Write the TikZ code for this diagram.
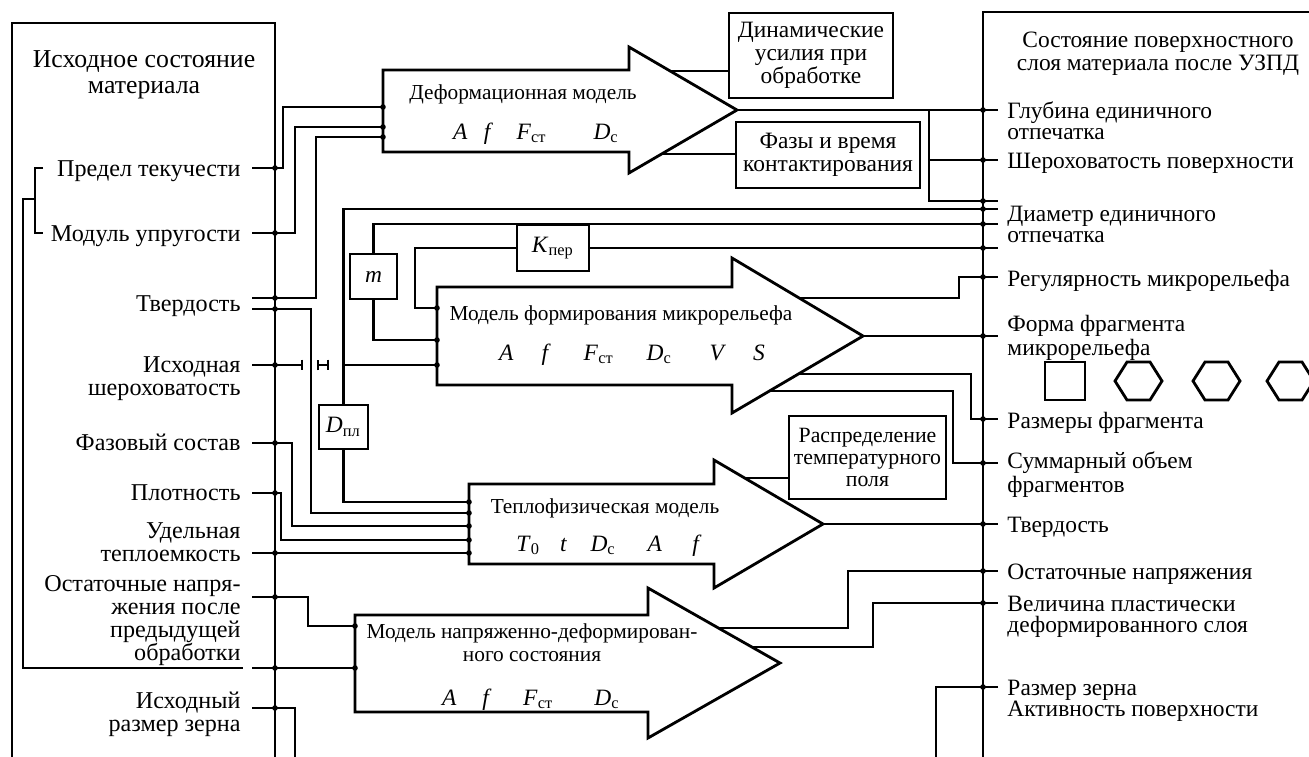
\documentclass[tikz,border=0pt]{standalone}
\usepackage{fontspec}
\setmainfont{Liberation Serif}
\usetikzlibrary{arrows.meta}
\tikzset{
    every node/.style={inner sep=0mm, align=center, font=\fontsize{10}{9.8}\selectfont}
}
\tikzset{
    wire/.style={line width=1pt},
    frame/.style={line width=1.2pt},
    blk/.style={draw, shape=rectangle, line width=1.2pt},
    ttl/.style={anchor=base, font=\fontsize{9.1}{9.6}\selectfont},
    llbl/.style={anchor=base east, align=right, font=\fontsize{10.3}{9.8}\selectfont},
    rlbl/.style={anchor=base west, align=left, font=\fontsize{10}{8.9}\selectfont},
    cutr/.style={line width=1pt, -{Bar[width=4.5pt]}},
    cutl/.style={line width=1pt, {Bar[width=4.5pt]}-},
    cutb/.style={line width=1pt, {Bar[width=4.5pt]}-{Bar[width=4.5pt]}}
}
\newcommand{\jr}{0.42mm}

\begin{document}
\begin{tikzpicture}[x=0.015cm, y=-0.015cm]
    \useasboundingbox (0,0) rectangle (1309,756);

    % source state of the material
    \draw[frame] (12,762) -- (12,23) -- (275,23) -- (275,762);
    \node (lt) at (144,93) [anchor=base, font=\fontsize{11}{10.7}\selectfont] {Исходное состояние\\материала};

    \node (lpt) at (241,176) [llbl] {Предел текучести};
    \node (lmu) at (241,241) [llbl] {Модуль упругости};
    \node (ltv) at (241,311) [llbl] {Твердость};
    \node (lir) at (241,395) [llbl] {Исходная\\шероховатость};
    \node (lfs) at (241,450) [llbl] {Фазовый состав};
    \node (lpl) at (241,500) [llbl] {Плотность};
    \node (lut) at (241,561) [llbl] {Удельная\\теплоемкость};
    \node (lon) at (241,660) [llbl] {Остаточные напря-\\жения после\\предыдущей\\обработки};
    \node (lrz) at (241,731) [llbl] {Исходный\\размер зерна};

    \coordinate (pPt) at (252,168);
    \coordinate (pMu) at (252,233);
    \coordinate (pTa) at (252,298);
    \coordinate (pTb) at (252,309);
    \coordinate (pIr) at (252,365);
    \coordinate (pFs) at (252,443);
    \coordinate (pPl) at (252,493);
    \coordinate (pUt) at (252,553);
    \coordinate (pOn) at (252,597);
    \coordinate (pOb) at (252,668);
    \coordinate (pRz) at (252,708);

    % surface layer after treatment
    \draw[frame] (983,762) -- (983,12) -- (1315,12);
    \node (rt) at (1158,70) [anchor=base] {Состояние поверхностного\\слоя материала после УЗПД};

    \node (rgl) at (1007,139) [rlbl] {Глубина единичного\\отпечатка};
    \node (rsh) at (1007,168) [rlbl] {Шероховатость поверхности};
    \node (rdm) at (1007,242) [rlbl] {Диаметр единичного\\отпечатка};
    \node (rrg) at (1007,286) [rlbl] {Регулярность микрорельефа};
    \node (rfm) at (1007,355) [rlbl, font=\fontsize{10}{8}\selectfont] {Форма фрагмента\\микрорельефа};
    \node (rrf) at (1007,428) [rlbl] {Размеры фрагмента};
    \node (rsv) at (1007,492) [rlbl] {Суммарный объем\\фрагментов};
    \node (rtv) at (1007,532) [rlbl] {Твердость};
    \node (ron) at (1007,579) [rlbl] {Остаточные напряжения};
    \node (rvp) at (1007,632) [rlbl] {Величина пластически\\деформированного слоя};
    \node (rrz) at (1007,716) [rlbl] {Размер зерна\\Активность поверхности};

    \coordinate (qGl) at (998,110);
    \coordinate (qSh) at (998,160);
    \coordinate (qD1) at (998,201);
    \coordinate (qD2) at (998,209);
    \coordinate (qD3) at (998,224);
    \coordinate (qD4) at (998,248);
    \coordinate (qRg) at (998,277);
    \coordinate (qFm) at (998,336);
    \coordinate (qRf) at (998,419);
    \coordinate (qSv) at (998,463);
    \coordinate (qTv) at (998,524);
    \coordinate (qOn) at (998,571);
    \coordinate (qVp) at (998,603);
    \coordinate (qRz) at (998,687);

    \draw[frame] (1045,362) rectangle (1085,400);
    \draw[frame] (1115,381) -- (1127,362) -- (1150,362) -- (1162,381) -- (1150,400) -- (1127,400) -- cycle;
    \draw[frame] (1193,381) -- (1205,362) -- (1228,362) -- (1240,381) -- (1228,400) -- (1205,400) -- cycle;
    \draw[frame] (1267,381) -- (1279,362) -- (1302,362) -- (1314,381) -- (1302,400) -- (1279,400) -- cycle;

    % deformation model
    \draw[frame] (383,70) -- (629,70) -- (629,47) -- (737,110) -- (629,173) -- (629,152) -- (383,152) -- cycle;
    \node (dmt) at (523,99) [ttl] {Деформационная модель};
    \node (dmv) at (536,139) [anchor=base]
        {\textit{A}\hspace{0.7em}\textit{f}\hspace{1em}\textit{F}\textsubscript{ст}\hspace{2em}\textit{D}\textsubscript{с}};
    \coordinate (dIn1) at (383,107);
    \coordinate (dIn2) at (383,127);
    \coordinate (dIn3) at (383,137);
    \coordinate (dUp) at (670,71);
    \coordinate (dLo) at (662,154);
    \coordinate (dTip) at (737,110);

    \node (dyn) at (811,55.5) [blk, minimum width=2.46cm, minimum height=1.275cm] {Динамические\\усилия при\\обработке};
    \node (phs) at (828,155) [blk, minimum width=2.76cm, minimum height=0.99cm] {Фазы и время\\контактирования};

    % microrelief model
    \draw[frame] (437,287) -- (732,287) -- (732,258) -- (863,336) -- (732,413) -- (732,385) -- (437,385) -- cycle;
    \node (mrt) at (621,320) [ttl] {Модель формирования микрорельефа};
    \node (mrv) at (632,360) [anchor=base]
        {\textit{A}\hspace{1.2em}\textit{f}\hspace{1.4em}\textit{F}\textsubscript{ст}\hspace{1.4em}\textit{D}\textsubscript{с}\hspace{1.6em}\textit{V}\hspace{1.15em}\textit{S}};
    \coordinate (mIn1) at (437,308);
    \coordinate (mIn2) at (437,340);
    \coordinate (mIn3) at (437,365);
    \coordinate (mUp) at (799,298);
    \coordinate (mTip) at (863,336);
    \coordinate (mLo1) at (798,374);
    \coordinate (mLo2) at (769,391);

    \node (kper) at (553,248) [blk, minimum width=1.08cm, minimum height=0.69cm] {\textit{K}\textsubscript{пер}};
    \node (mbox) at (373.5,276.5) [blk, minimum width=0.705cm, minimum height=0.675cm] {\textit{m}};
    \node (dpl) at (343.5,427) [blk, minimum width=0.735cm, minimum height=0.66cm] {\textit{D}\textsubscript{пл}};

    % thermophysical model
    \draw[frame] (469,484) -- (714,484) -- (714,460) -- (823,524) -- (714,588) -- (714,564) -- (469,564) -- cycle;
    \node (tpt) at (605,513) [ttl] {Теплофизическая модель};
    \node (tpv) at (609,551) [anchor=base]
        {\textit{T}\textsubscript{0}\hspace{0.85em}\textit{t}\hspace{1em}\textit{D}\textsubscript{с}\hspace{1.35em}\textit{A}\hspace{1.3em}\textit{f}};
    \coordinate (tIn1) at (469,502);
    \coordinate (tIn2) at (469,513);
    \coordinate (tIn3) at (469,526);
    \coordinate (tIn4) at (469,540);
    \coordinate (tIn5) at (469,553);
    \coordinate (tUp) at (745,478);
    \coordinate (tTip) at (823,524);

    \node (tmp) at (867.5,457.5) [blk, minimum width=2.355cm, minimum height=1.245cm, font=\fontsize{9.3}{9.4}\selectfont]
        {Распределение\\температурного\\поля};

    % stress-strain model
    \draw[frame] (355,615) -- (648,615) -- (648,588) -- (780,663) -- (648,738) -- (648,712) -- (355,712) -- cycle;
    \node (sst) at (532,661) [ttl] {Модель напряженно-деформирован-\\ного состояния};
    \node (ssv) at (531,705) [anchor=base]
        {\textit{A}\hspace{1.1em}\textit{f}\hspace{1.35em}\textit{F}\textsubscript{ст}\hspace{1.75em}\textit{D}\textsubscript{с}};
    \coordinate (sIn1) at (355,626);
    \coordinate (sIn2) at (355,668);
    \coordinate (sUp1) at (718,628);
    \coordinate (sUp2) at (752,647);

    % connections
    \draw[wire] (43,168) -- (35,168) -- (35,233) -- (43,233);
    \draw[wire] (35,199) -- (23,199) -- (23,668) -- (243,668);

    \draw[wire] (pPt) -- (283,168) |- (dIn1);
    \draw[wire] (pMu) -- (295,233) |- (dIn2);
    \draw[wire] (pTa) -- (316,298) |- (dIn3);
    \draw[wire] (pTb) -- (311,309) |- (tIn2);
    \draw[cutr] (pIr) -- (303,365);
    \draw[cutb] (317,365) -- (329,365);
    \draw[cutl] (342,365) -- (mIn3);
    \draw[wire] (pFs) -- (292,443) |- (tIn3);
    \draw[wire] (pPl) -- (281,493) |- (tIn4);
    \draw[wire] (pUt) -- (tIn5);
    \draw[wire] (pOn) -- (308,597) |- (sIn1);
    \draw[wire] (pOb) -- (sIn2);
    \draw[wire] (pRz) -- (295,708) -- (295,762);

    \draw[wire] (dTip) -- (qGl);
    \draw[wire] (929,110) -- (929,201) -- (qD1);
    \draw[wire] (929,160) -- (qSh);
    \draw[wire] (dUp) -- (dUp -| dyn.west);
    \draw[wire] (dLo) -- (dLo -| phs.west);

    \draw[wire] (dpl.north) |- (qD2);
    \draw[wire] (dpl.south) |- (tIn1);
    \draw[wire] (mbox.north) |- (qD3);
    \draw[wire] (mbox.south) |- (mIn2);
    \draw[wire] (kper.east) -- (qD4);
    \draw[wire] (kper.west) -- (415,248) |- (mIn1);

    \draw[wire] (mUp) -- (959,298) |- (qRg);
    \draw[wire] (mTip) -- (qFm);
    \draw[wire] (mLo1) -- (971,374) |- (qRf);
    \draw[wire] (mLo2) -- (953,391) |- (qSv);

    \draw[wire] (tTip) -- (qTv);
    \draw[wire] (tUp) -- (tUp -| tmp.west);

    \draw[wire] (sUp1) -- (848,628) |- (qOn);
    \draw[wire] (sUp2) -- (873,647) |- (qVp);
    \draw[wire] (qRz) -- (936,687) -- (936,762);

    % junction dots
    \fill (275,168) circle[radius=\jr] (275,233) circle[radius=\jr] (275,298) circle[radius=\jr]
          (275,309) circle[radius=\jr] (275,365) circle[radius=\jr] (275,443) circle[radius=\jr]
          (275,493) circle[radius=\jr] (275,553) circle[radius=\jr] (275,597) circle[radius=\jr]
          (275,668) circle[radius=\jr] (275,708) circle[radius=\jr];
    \fill (983,110) circle[radius=\jr] (983,160) circle[radius=\jr] (983,201) circle[radius=\jr]
          (983,209) circle[radius=\jr] (983,224) circle[radius=\jr] (983,248) circle[radius=\jr]
          (983,277) circle[radius=\jr] (983,336) circle[radius=\jr] (983,419) circle[radius=\jr]
          (983,463) circle[radius=\jr] (983,524) circle[radius=\jr] (983,571) circle[radius=\jr]
          (983,603) circle[radius=\jr] (983,687) circle[radius=\jr];
    \fill (dIn1) circle[radius=\jr] (dIn2) circle[radius=\jr] (dIn3) circle[radius=\jr]
          (mIn1) circle[radius=\jr] (mIn2) circle[radius=\jr] (mIn3) circle[radius=\jr]
          (tIn1) circle[radius=\jr] (tIn2) circle[radius=\jr] (tIn3) circle[radius=\jr]
          (tIn4) circle[radius=\jr] (tIn5) circle[radius=\jr] (sIn1) circle[radius=\jr]
          (sIn2) circle[radius=\jr];
\end{tikzpicture}
\end{document}
